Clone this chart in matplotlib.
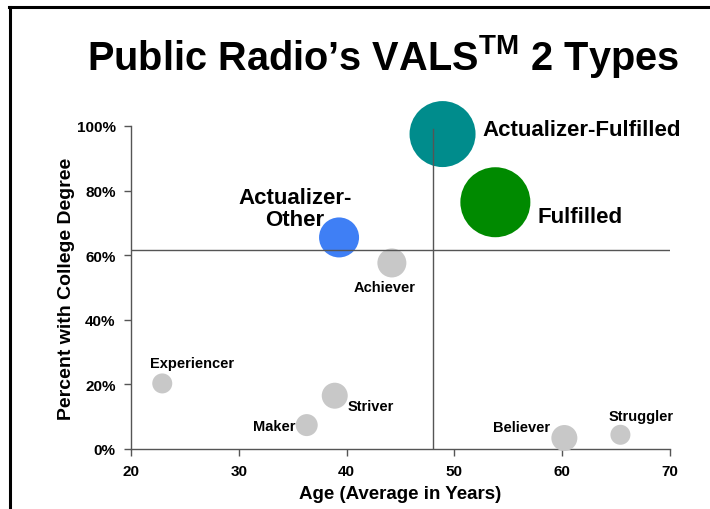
import matplotlib
matplotlib.use("Agg")
import matplotlib.pyplot as plt
from matplotlib.lines import Line2D

plt.rcParams['font.family'] = ['Liberation Sans', 'DejaVu Sans']
plt.rcParams['mathtext.fontset'] = 'custom'
plt.rcParams['mathtext.bf'] = 'Liberation Sans:bold'
plt.rcParams['mathtext.rm'] = 'Liberation Sans:bold'

# ---- data ----
types = ["Actualizer-Fulfilled", "Fulfilled", "Actualizer-Other", "Achiever",
         "Experiencer", "Striver", "Maker", "Believer", "Struggler"]
age = [48.9, 53.8, 39.3, 44.2, 22.9, 38.9, 36.3, 60.2, 65.4]
college_pct = [97.5, 76.4, 65.5, 57.6, 20.3, 16.5, 7.4, 3.4, 4.4]
bubble_radius_px = [33, 35, 20, 14.5, 10, 13, 11, 13, 10]
colors = ["#008C8C", "#008A00", "#3F7FF5", "#C8C8C8", "#C8C8C8",
          "#C8C8C8", "#C8C8C8", "#C8C8C8", "#C8C8C8"]
label_text = ["Actualizer-Fulfilled", "Fulfilled", "Actualizer-\nOther", "Achiever",
              "Experiencer", "Striver", "Maker", "Believer", "Struggler"]
label_age = [52.56, 57.7, 35.2, 43.5, 25.7, 40.1, 35.3, 58.9, 67.3]
label_pct = [98.8, 71.9, 74.5, 50.2, 26.6, 13.4, 7.0, 6.7, 10.3]
label_ha = ["left", "left", "center", "center", "center", "left", "right", "right", "center"]
label_size = [16, 16, 16, 10.5, 10.5, 10.5, 10.5, 10.5, 10.5]

avg_age = 48.0
avg_pct = 61.5

x_ticks = [20, 30, 40, 50, 60, 70]
y_ticks = [0, 20, 40, 60, 80, 100]
y_tick_labels = ["0%", "20%", "40%", "60%", "80%", "100%"]

# ---- figure ----
fig = plt.figure(figsize=(7.1, 5.1), dpi=100)
ax = fig.add_axes([131/710, 60/510, 539/710, 323/510])

# frame (left + top lines)
fig.add_artist(Line2D([9.5/710, 9.5/710], [0, 1 - 7.5/510], color="black", lw=2.2,
                      transform=fig.transFigure))
fig.add_artist(Line2D([8.5/710, 1], [1 - 7.5/510, 1 - 7.5/510], color="black", lw=2.2,
                      transform=fig.transFigure))

ax.set_xlim(20, 70)
ax.set_ylim(0, 100)

# reference lines
ax.axhline(avg_pct, color="#555555", lw=1.0, zorder=4)
ax.plot([avg_age, avg_age], [0, 99], color="#555555", lw=1.0, zorder=4)

# bubbles
sizes = [(2 * r * 0.72) ** 2 for r in bubble_radius_px]
ax.scatter(age, college_pct, s=sizes, c=colors, linewidths=0, zorder=3, clip_on=False)

for t, x, y, ha, fs in zip(label_text, label_age, label_pct, label_ha, label_size):
    ax.text(x, y, t, ha=ha, va="center", fontsize=fs, fontweight="bold",
            linespacing=1.05, clip_on=False, zorder=5)

for s in ["top", "right"]:
    ax.spines[s].set_visible(False)
for s in ["left", "bottom"]:
    ax.spines[s].set_color("#555555")
    ax.spines[s].set_linewidth(1.0)

ax.set_xticks(x_ticks)
ax.set_xticklabels([str(v) for v in x_ticks], fontsize=11, fontweight="bold")
ax.set_yticks(y_ticks)
ax.set_yticklabels(y_tick_labels, fontsize=11, fontweight="bold")
ax.tick_params(direction="out", length=5, width=1, color="#555555", pad=6)

ax.set_xlabel("Age (Average in Years)", fontsize=13.5, fontweight="bold", labelpad=5)
ax.set_ylabel("Percent with College Degree", fontsize=14, fontweight="bold", labelpad=1)

fig.text(383/710, 1 - 69.5/510, r"Public Radio’s VALS$^{\mathbf{TM}}$ 2 Types",
         ha="center", va="baseline", fontsize=28.6, fontweight="bold")

fig.savefig("out.png", dpi=100)
